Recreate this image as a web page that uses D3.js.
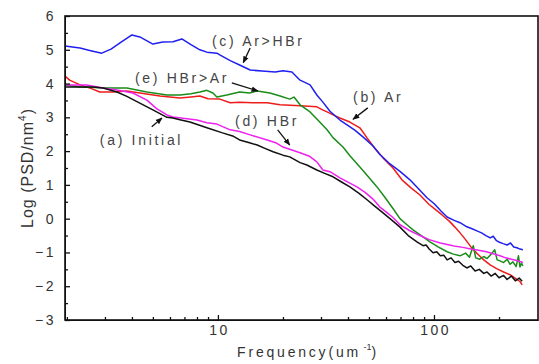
<!DOCTYPE html>
<html>
<head>
<meta charset="utf-8">
<script src="https://cdn.jsdelivr.net/npm/d3@7"></script>
<style>
  body { margin: 0; background: #fff; }
  svg { display: block; font-family: Arial, "Liberation Sans", sans-serif; }
</style>
</head>
<body>
<svg id="chart" width="539" height="364"></svg>
<script>
// [frequency (um^-1), log PSD]
const initial = [[1.96,3.90],[2.64,3.90],[2.94,3.87],[3.41,3.75],[3.79,3.62],[4.35,3.42],[5.00,3.22],[5.81,3.00],[6.19,2.98],[6.67,2.93],[7.42,2.86],[8.89,2.69],[10.5,2.54],[11.7,2.45],[12.6,2.33],[14.0,2.25],[15.2,2.18],[16.5,2.08],[18.0,1.98],[20.0,1.88],[21.5,1.83],[24.0,1.66],[25.8,1.59],[28.7,1.44],[31.0,1.35],[34.1,1.24],[37.0,1.10],[40.8,0.94],[45.0,0.75],[49.0,0.56],[53.0,0.38],[58.1,0.17],[64.0,-0.05],[69.6,-0.25],[76,-0.50],[83.4,-0.69],[89,-0.80],[92,-0.78],[95,-0.90],[99,-1.01],[103,-0.98],[107,-1.10],[111,-1.08],[115,-1.22],[120,-1.16],[125,-1.30],[130,-1.26],[136,-1.38],[142,-1.46],[148,-1.40],[155,-1.55],[162,-1.50],[170,-1.62],[176,-1.58],[184,-1.70],[192,-1.62],[200,-1.75],[210,-1.68],[218,-1.80],[228,-1.70],[238,-1.84],[248,-1.76],[256,-1.85]];
const ar = [[1.96,4.22],[2.06,4.10],[2.30,3.96],[2.60,3.85],[2.84,3.75],[3.27,3.75],[3.79,3.78],[4.35,3.72],[5.39,3.63],[6.67,3.57],[7.50,3.60],[8.25,3.63],[9.00,3.55],[10.2,3.54],[11.4,3.43],[12.6,3.45],[14.5,3.43],[16.9,3.43],[19.4,3.37],[24.0,3.34],[28.7,3.31],[30.5,3.22],[32.0,3.16],[34.5,3.06],[36.7,2.98],[40.8,2.86],[45.4,2.69],[49.0,2.39],[53.0,2.10],[58.1,1.80],[64.6,1.50],[71.1,1.15],[78.0,0.92],[86.1,0.70],[95.0,0.42],[102,0.26],[109,0.11],[118,-0.08],[125,-0.25],[132,-0.42],[140,-0.62],[150,-0.88],[160,-1.06],[170,-1.22],[182,-1.37],[195,-1.48],[210,-1.58],[225,-1.66],[240,-1.78],[250,-1.86],[256,-1.96]];
const arHbr = [[1.96,5.11],[2.12,5.08],[2.30,5.05],[2.55,4.98],[2.90,4.90],[3.20,5.02],[3.55,5.22],[4.00,5.44],[4.35,5.38],[5.00,5.17],[5.56,5.23],[6.20,5.24],[6.81,5.32],[7.50,5.15],[8.25,5.00],[8.89,4.93],[9.89,4.90],[10.2,4.85],[11.4,4.68],[12.6,4.55],[14.1,4.40],[16.0,4.37],[18.4,4.34],[20.0,4.38],[22.0,4.34],[24.0,4.10],[26.7,3.96],[28.7,3.66],[30.6,3.45],[33.0,3.18],[36.7,2.92],[39.6,2.78],[43.0,2.62],[46.9,2.42],[52.2,2.15],[56.2,1.90],[62.6,1.62],[69.6,1.40],[77.4,1.15],[85.0,0.88],[92.8,0.62],[100,0.45],[108,0.22],[115,0.05],[124,-0.05],[132,-0.12],[142,-0.24],[150,-0.30],[158,-0.36],[166,-0.42],[174,-0.50],[182,-0.57],[188,-0.52],[194,-0.64],[201,-0.70],[209,-0.74],[218,-0.78],[226,-0.72],[234,-0.84],[242,-0.86],[250,-0.90],[258,-0.92]];
const hbr = [[1.96,3.96],[2.47,3.96],[2.94,3.87],[3.41,3.81],[4.04,3.72],[4.69,3.51],[5.22,3.25],[5.81,3.07],[6.19,3.01],[7.19,2.96],[8.00,2.92],[8.89,2.84],[9.89,2.80],[11.4,2.63],[12.6,2.58],[14.1,2.48],[16.9,2.33],[18.5,2.25],[20.0,2.12],[24.0,1.95],[26.5,1.85],[28.7,1.68],[30.6,1.44],[33.0,1.39],[36.7,1.21],[40.0,1.08],[44.0,0.94],[48.0,0.78],[52.2,0.58],[56.0,0.35],[60.6,0.18],[65.0,0.02],[69.6,-0.18],[77.0,-0.35],[86.1,-0.50],[95.0,-0.62],[107,-0.72],[118,-0.78],[126,-0.82],[136,-0.85],[148,-0.90],[163,-0.94],[175,-0.98],[188,-1.04],[202,-1.10],[215,-1.16],[228,-1.20],[242,-1.24],[258,-1.30]];
const hbrAr = [[1.96,3.96],[2.30,3.90],[2.70,3.88],[3.16,3.87],[3.79,3.87],[4.69,3.75],[5.81,3.66],[6.67,3.66],[7.50,3.70],[8.25,3.75],[8.89,3.80],[9.48,3.72],[9.89,3.60],[11.0,3.66],[12.6,3.75],[14.0,3.72],[15.2,3.78],[17.4,3.72],[19.4,3.63],[21.5,3.54],[22.5,3.60],[24.0,3.37],[26.7,3.16],[29.0,2.92],[32.0,2.63],[34.1,2.40],[37.9,2.12],[41.0,1.85],[45.4,1.53],[50.0,1.22],[54.5,0.94],[59.0,0.65],[64.6,0.30],[69.6,0.00],[75.0,-0.18],[80.0,-0.33],[88.0,-0.52],[95.8,-0.69],[105,-0.84],[115,-0.98],[123,-1.05],[132,-1.10],[140,-1.02],[146,-1.14],[152,-0.80],[156,-1.16],[163,-1.20],[170,-1.12],[176,-1.18],[184,-1.05],[191,-0.92],[196,-1.22],[202,-1.25],[210,-1.30],[218,-1.20],[225,-1.35],[232,-1.28],[240,-1.42],[246,-1.10],[250,-1.43],[254,-1.32],[258,-1.40]];

const series = [
  { data: ar, color: "#ee1c1c" },
  { data: hbrAr, color: "#1a8c1a" },
  { data: hbr, color: "#ee22ee" },
  { data: arHbr, color: "#2020ee" },
  { data: initial, color: "#111111" }
];

// annotations: text, text position, arrow [from, to] in data coords
const notes = [
  { text: "(c) Ar>HBr", at: [9.38, 5.11], arrow: [[14.1, 5.05], [13.1, 4.62]] },
  { text: "(e) HBr>Ar", at: [4.13, 4.02], arrow: [[11.6, 4.02], [15.3, 3.78]] },
  { text: "(b) Ar", at: [42.2, 3.46], arrow: [[49.4, 3.28], [42.2, 2.94]] },
  { text: "(d) HBr", at: [12.0, 2.75], arrow: [[18.9, 2.63], [21.5, 2.18]] },
  { text: "(a) Initial", at: [2.84, 2.18], arrow: [[4.94, 2.72], [5.51, 2.98]] }
];

const xMajor = [10, 100];
const xMinor = [2,3,4,5,6,7,8,9,20,30,40,50,60,70,80,90,200];
const yMajor = [-3,-2,-1,0,1,2,3,4,5,6];
const yMinor = [-2.5,-1.5,-0.5,0.5,1.5,2.5,3.5,4.5,5.5];

const padL = 65, padR = 538, padT = 16, padB = 320;
const svg = d3.select("#chart");

const x = d3.scaleLog().domain([1.96, 303]).range([padL, padR]);
const y = d3.scaleLinear().domain([-3, 6]).range([padB, padT]);

svg.append("defs").append("marker")
  .attr("id", "head")
  .attr("viewBox", "0 0 10 10")
  .attr("refX", 9).attr("refY", 5)
  .attr("markerWidth", 7).attr("markerHeight", 7)
  .attr("markerUnits", "userSpaceOnUse")
  .attr("orient", "auto")
  .append("path").attr("d", "M0,1 L10,5 L0,9 Z").attr("fill", "#111");

// curves
const line = d3.line().x(d => x(d[0])).y(d => y(d[1]));
svg.append("g").selectAll("path")
  .data(series)
  .enter()
  .append("path")
    .attr("d", d => line(d.data))
    .attr("fill", "none")
    .attr("stroke", d => d.color)
    .attr("stroke-width", 1.5)
    .attr("stroke-linejoin", "round");

// axes with inward ticks
const xAxis = svg.append("g").attr("transform", "translate(0," + padB + ")")
  .call(d3.axisBottom(x).tickValues(xMajor).tickFormat(d3.format("d"))
    .tickSizeInner(-5).tickSizeOuter(0).tickPadding(5));
svg.append("g").attr("transform", "translate(0," + padB + ")")
  .call(d3.axisBottom(x).tickValues(xMinor).tickFormat("").tickSizeInner(-3).tickSizeOuter(0))
  .select(".domain").remove();

const yAxis = svg.append("g").attr("transform", "translate(" + padL + ",0)")
  .call(d3.axisLeft(y).tickValues(yMajor).tickFormat(d3.format("d"))
    .tickSizeInner(-5).tickSizeOuter(0).tickPadding(9));
svg.append("g").attr("transform", "translate(" + padL + ",0)")
  .call(d3.axisLeft(y).tickValues(yMinor).tickFormat("").tickSizeInner(-3).tickSizeOuter(0))
  .select(".domain").remove();

svg.selectAll(".tick line").attr("stroke", "#111").attr("stroke-width", 1.3);
svg.selectAll(".domain").attr("stroke", "#111");
[xAxis, yAxis].forEach(a => a.selectAll("text")
  .style("font-size", "14px").style("letter-spacing", "2.5px").attr("fill", "#333"));
xAxis.selectAll("text").attr("dx", "1.2px");

// frame
svg.append("rect")
  .attr("x", padL).attr("y", padT)
  .attr("width", padR - padL).attr("height", padB - padT)
  .attr("fill", "none").attr("stroke", "#111").attr("stroke-width", 1.6);

// axis titles
const xt = svg.append("text")
  .attr("x", 308).attr("y", 357)
  .attr("text-anchor", "middle")
  .style("font-size", "14px").style("letter-spacing", "2.8px")
  .attr("fill", "#333");
xt.append("tspan").text("Frequency(um");
xt.append("tspan").attr("dy", -7).style("font-size", "9px").style("letter-spacing", "0px").text(" -1");
xt.append("tspan").attr("dy", 7).text(")");

const yt = svg.append("text")
  .attr("transform", "translate(33,168)rotate(-90)")
  .attr("text-anchor", "middle")
  .style("font-size", "16px").style("letter-spacing", "1px")
  .attr("fill", "#333");
yt.append("tspan").text("Log (PSD/nm");
yt.append("tspan").attr("dy", -7).style("font-size", "10px").text("4");
yt.append("tspan").attr("dy", 7).text(")");

// annotations
const ann = svg.append("g");
notes.forEach(n => {
  ann.append("text")
    .attr("x", x(n.at[0])).attr("y", y(n.at[1]))
    .style("font-size", "14px").style("letter-spacing", "2.7px")
    .attr("fill", "#444")
    .text(n.text);
  ann.append("line")
    .attr("x1", x(n.arrow[0][0])).attr("y1", y(n.arrow[0][1]))
    .attr("x2", x(n.arrow[1][0])).attr("y2", y(n.arrow[1][1]))
    .attr("stroke", "#111").attr("stroke-width", 1.3)
    .attr("marker-end", "url(#head)");
});
</script>
</body>
</html>
